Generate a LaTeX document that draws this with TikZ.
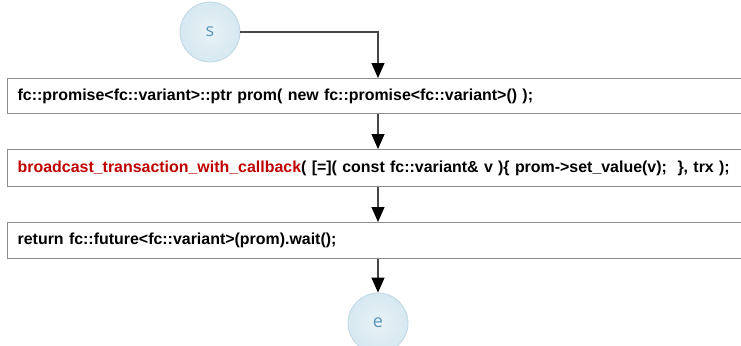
\documentclass[tikz,border=0pt]{standalone}
\usepackage{fontspec}
\setmainfont{Liberation Sans}
\newfontfamily\termfont{Open Sans}
\usetikzlibrary{arrows.meta}
\definecolor{boxline}{RGB}{140,140,140}
\definecolor{flowline}{RGB}{70,70,70}
\definecolor{callred}{RGB}{192,0,0}
\definecolor{termfill}{RGB}{214,232,240}
\definecolor{termedge}{RGB}{190,215,226}
\definecolor{termtext}{RGB}{90,150,185}
\tikzset{
  stepbox/.style={draw=boxline, line width=1.3bp, fill=white, minimum height=36bp,
    text width=760bp, inner xsep=10bp, align=left, anchor=north west,
    font=\bfseries\fontsize{16}{19}\selectfont},
  terminal/.style={circle, draw=termedge, line width=0.8bp,
    inner color=termfill!55, outer color=termfill, minimum size=60bp, inner sep=0pt,
    text=termtext, font=\termfont\fontsize{18}{20}\selectfont},
  flow/.style={draw=flowline, line width=1.2bp,
    -{Triangle[length=15bp, width=13bp, fill=black, color=black]}}
}
\begin{document}
\begin{tikzpicture}[x=1bp, y=-1bp]
  \useasboundingbox (0,0) rectangle (741,345);
  \clip (0,0) rectangle (741,345);
  \node[terminal] (s) at (210,32) {s};
  \node[stepbox, minimum height=35bp] (p1) at (7,78)
    {fc::promise<fc::variant>::ptr prom( new fc::promise<fc::variant>() );};
  \node[stepbox, minimum height=37bp] (p2) at (7,149)
    {\textcolor{callred}{broadcast\_transaction\_with\_callback}( [=]( const fc::variant\& v )\{ prom->set\_value(v);~~\}, trx );};
  \node[stepbox, minimum height=36bp] (p3) at (7,222)
    {return fc::future<fc::variant>(prom).wait();};
  \node[terminal] (e) at (378,323) {e};
  \coordinate (turn) at (378,32);
  \draw[flow] (s.east) -- (turn) -- (turn |- p1.north);
  \draw[flow] (turn |- p1.south) -- (turn |- p2.north);
  \draw[flow] (turn |- p2.south) -- (turn |- p3.north);
  \draw[flow] (turn |- p3.south) -- (e.north);
\end{tikzpicture}
\end{document}
